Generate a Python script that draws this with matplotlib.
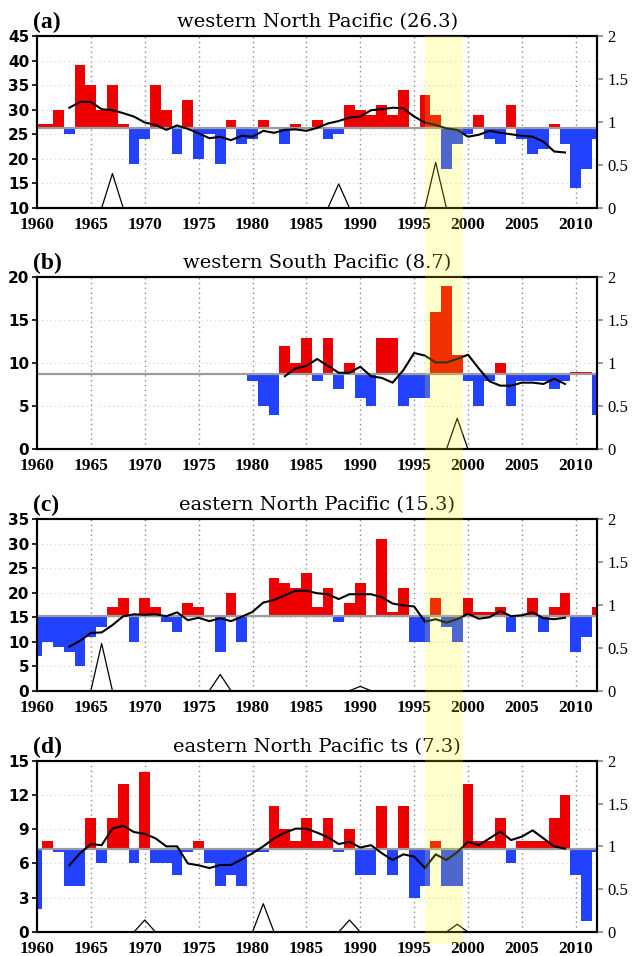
import matplotlib
matplotlib.use('Agg')
import matplotlib.pyplot as plt
from matplotlib.patches import Rectangle

# ---------------- data ----------------
years_full = list(range(1960, 2013))
years_wsp = list(range(1980, 2013))
rm_years = list(range(1963, 2010))
rm_years_wsp = list(range(1983, 2010))

titles = ["western North Pacific (26.3)", "western South Pacific (8.7)",
          "eastern North Pacific (15.3)", "eastern North Pacific ts (7.3)"]
panel_labels = ["(a)", "(b)", "(c)", "(d)"]
means = [26.3, 8.7, 15.3, 7.3]

wnp_vals = [27, 27, 30, 25, 39, 35, 30, 35, 27, 19,
            24, 35, 30, 21, 32, 20, 25, 19, 28, 23,
            24, 28, 26, 23, 27, 26, 28, 24, 25, 31,
            30, 29, 31, 29, 34, 26, 33, 29, 18, 23,
            25, 29, 24, 23, 31, 24, 21, 22, 27, 23,
            14, 18, 24]
wnp_rm = [30.4, 31.6, 31.6, 30.1, 29.9, 29.3, 28.6, 27.4, 26.9, 25.9,
          26.8, 26.1, 25.2, 24.2, 24.5, 23.8, 24.7, 24.5, 25.7, 25.3,
          25.9, 26.0, 25.7, 26.3, 27.2, 27.7, 28.4, 28.6, 29.9, 30.1,
          30.4, 30.3, 28.6, 27.4, 26.9, 26.2, 25.9, 24.5, 24.9, 25.7,
          25.3, 25.0, 24.7, 24.5, 23.5, 21.5, 21.3]
wnp_peak_years = [1967, 1988, 1997]
wnp_peak_vals = [0.40, 0.28, 0.53]

wsp_vals = [8, 5, 4, 12, 10, 13, 8, 13, 7, 10,
            6, 5, 13, 13, 5, 6, 6, 16, 19, 11,
            8, 5, 8, 10, 5, 8, 8, 8, 7, 8,
            9, 9, 4]
wsp_rm = [8.5, 9.4, 9.7, 10.5, 9.7, 8.9, 8.9, 9.6, 8.5, 8.3,
          7.75, 9.2, 11.2, 10.9, 10.1, 10.1, 10.5, 11.0, 9.4, 7.9,
          7.4, 7.4, 7.75, 7.75, 7.6, 8.2, 7.6]
wsp_peak_years = [1999]
wsp_peak_vals = [0.36]

enp_vals = [7, 10, 9, 8, 5, 11, 13, 17, 19, 10,
            19, 17, 14, 12, 18, 17, 15, 8, 20, 10,
            15, 15, 23, 22, 21, 24, 17, 21, 14, 18,
            22, 15, 31, 16, 21, 10, 10, 19, 13, 10,
            19, 16, 16, 17, 12, 15, 19, 12, 17, 20,
            8, 11, 17]
enp_rm = [9.0, 10.2, 11.8, 11.9, 13.4, 15.2, 15.6, 15.5, 15.6, 15.2,
          16.0, 14.4, 14.9, 14.2, 14.8, 14.2, 15.1, 16.1, 18.0, 18.5,
          19.5, 20.4, 20.4, 19.9, 19.7, 18.7, 19.7, 19.7, 19.7, 19.1,
          17.8, 17.4, 17.2, 14.1, 14.6, 13.9, 14.6, 15.7, 14.7, 15.0,
          16.3, 15.2, 15.4, 16.0, 14.8, 14.6, 14.9]
enp_peak_years = [1966, 1977, 1990]
enp_peak_vals = [0.55, 0.19, 0.05]

ts_vals = [2, 8, 7, 4, 4, 10, 6, 10, 13, 6,
           14, 6, 6, 5, 7, 8, 6, 4, 5, 4,
           7, 7, 11, 9, 8, 10, 8, 10, 7, 9,
           5, 5, 11, 5, 11, 3, 4, 8, 4, 4,
           13, 8, 8, 10, 6, 8, 8, 8, 10, 12,
           5, 1, 7]
ts_rm = [5.84, 6.9, 7.7, 7.6, 9.05, 9.3, 8.75, 8.6, 8.2, 7.5,
         7.5, 6.0, 5.84, 5.6, 5.87, 5.87, 6.36, 6.9, 7.5, 8.2,
         8.7, 9.05, 9.05, 8.7, 8.3, 7.7, 7.9, 7.4, 7.6, 6.9,
         6.3, 6.8, 6.6, 5.6, 6.8, 6.3, 7.0, 7.9, 7.6, 8.2,
         8.8, 8.05, 8.35, 8.9, 8.2, 7.5, 7.3]
ts_peak_years = [1970, 1981, 1989, 1999]
ts_peak_vals = [0.14, 0.33, 0.14, 0.09]

left_ticks = [list(range(10, 46, 5)), list(range(0, 21, 5)),
              list(range(0, 36, 5)), list(range(0, 16, 3))]
right_ticks = [0, 0.5, 1, 1.5, 2]
right_labels = ["0", "0.5", "1", "1.5", "2"]
x_ticks = list(range(1960, 2011, 5))
grid_years = list(range(1965, 2011, 5))
shade_span = (1996, 1999.5)

panels = [
    (years_full, wnp_vals, rm_years, wnp_rm, wnp_peak_years, wnp_peak_vals),
    (years_wsp, wsp_vals, rm_years_wsp, wsp_rm, wsp_peak_years, wsp_peak_vals),
    (years_full, enp_vals, rm_years, enp_rm, enp_peak_years, enp_peak_vals),
    (years_full, ts_vals, rm_years, ts_rm, ts_peak_years, ts_peak_vals),
]

# ---------------- layout ----------------
W, H = 632, 956
fig = plt.figure(figsize=(W / 100, H / 100), dpi=100)
ax_left, ax_right = 37, 597.3
tops = [36, 277.3, 519.3, 760.7]
bottoms = [208, 449.3, 690.7, 932]

RED = '#EE0000'
BLUE = '#2242FF'
XMIN, XMAX = 1960, 2012

for i, (yrs, vals, ryrs, rvals, pyrs, pvals) in enumerate(panels):
    mean = means[i]
    rect = [ax_left / W, 1 - bottoms[i] / H, (ax_right - ax_left) / W,
            (bottoms[i] - tops[i]) / H]
    ax = fig.add_axes(rect)
    ax.set_xlim(XMIN, XMAX)
    ax.set_ylim(left_ticks[i][0], left_ticks[i][-1])

    # grid
    for gy in grid_years:
        ax.axvline(gy, color='#8a8a8a', lw=1.0, ls=(0, (1, 2.5)), zorder=1)
    for t in left_ticks[i][1:-1]:
        ax.axhline(t, color='#d0d0d0', lw=0.8, ls=(0, (1, 3)), zorder=1)

    diffs = [v - mean for v in vals]
    colors = [RED if d > 0 else BLUE for d in diffs]
    ax.bar(yrs, diffs, bottom=mean, width=1.0, color=colors, linewidth=0,
           zorder=2)
    ax.axhline(mean, color='#9c9c9c', lw=1.6, zorder=3)
    ax.plot(ryrs, rvals, color='black', lw=1.5, zorder=4)

    ax.set_yticks(left_ticks[i])
    ax.set_yticklabels([str(t) for t in left_ticks[i]],
                       fontfamily='DejaVu Sans', fontweight='bold', fontsize=11)
    ax.set_xticks(x_ticks)
    ax.set_xticklabels([str(t) for t in x_ticks], fontfamily='Liberation Serif',
                       fontweight='bold', fontsize=12.5)
    ax.tick_params(axis='x', length=0, pad=6.5)
    ax.tick_params(axis='y', direction='out', length=3.5, width=1.2, pad=2)
    for s in ax.spines.values():
        s.set_linewidth(1.5)

    ax2 = ax.twinx()
    ax2.set_ylim(0, 2)
    ax2.set_xlim(XMIN, XMAX)
    for py, pv in zip(pyrs, pvals):
        ax2.plot([py - 1, py, py + 1], [0, pv, 0], color='black', lw=0.9,
                 zorder=3)
    ax2.set_yticks(right_ticks)
    ax2.set_yticklabels(right_labels, fontfamily='Liberation Serif', fontsize=12)
    ax2.tick_params(axis='y', direction='out', length=4, width=1.2,
                    color='#888888', pad=3)
    for s in ax2.spines.values():
        s.set_linewidth(1.5)

    # titles
    fig.text((ax_left + ax_right) / 2 / W, 1 - (tops[i] - 9) / H, titles[i],
             ha='center', va='baseline', fontfamily='DejaVu Serif', fontsize=14)
    fig.text(33 / W, 1 - (tops[i] - 8) / H, panel_labels[i], ha='left',
             va='baseline', fontfamily='Liberation Serif', fontweight='bold',
             fontsize=17)

# yellow highlight band across all panels
x0 = (ax_left + (shade_span[0] - XMIN) / (XMAX - XMIN) * (ax_right - ax_left)) / W
x1 = (ax_left + (shade_span[1] - XMIN) / (XMAX - XMIN) * (ax_right - ax_left)) / W
band = Rectangle((x0, 1 - 944 / H), x1 - x0, (944 - 36) / H,
                 transform=fig.transFigure, facecolor='#FFFF00', alpha=0.2,
                 edgecolor='none', zorder=10)
fig.patches.append(band)

fig.savefig('out.png', dpi=100)
